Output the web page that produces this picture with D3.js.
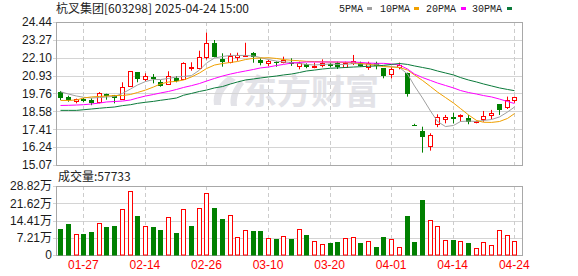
<!DOCTYPE html>
<html>
<head>
<meta charset="utf-8">
<script src="https://cdn.jsdelivr.net/npm/d3@7"></script>
<style>
  body { margin: 0; background: #fff; }
  svg { display: block; }
</style>
</head>
<body>
<script>
// trading days shown
const dates = ["01-22","01-23","01-24","01-27",
  "02-05","02-06","02-07","02-10","02-11","02-12","02-13","02-14","02-17","02-18","02-19","02-20","02-21","02-24","02-25","02-26","02-27","02-28",
  "03-03","03-04","03-05","03-06","03-07","03-10","03-11","03-12","03-13","03-14","03-17","03-18","03-19","03-20","03-21","03-24","03-25","03-26","03-27","03-28","03-31",
  "04-01","04-02","04-03","04-07","04-08","04-09","04-10","04-11","04-14","04-15","04-16","04-17","04-18","04-21","04-22","04-23","04-24"];

const open = [19.87,19.55,19.24,19.40,19.33,19.20,19.70,19.64,19.38,20.27,
  21.14,20.73,20.82,20.49,20.36,20.79,20.73,21.43,21.45,22.17,
  23.08,22.02,21.80,22.17,22.21,22.43,21.93,21.73,21.82,21.82,
  21.84,21.58,21.67,21.51,21.60,21.67,21.73,21.51,21.73,21.78,
  21.51,21.73,21.41,21.03,21.49,21.08,17.71,17.32,16.34,17.76,
  18.07,18.20,18.28,18.17,17.89,18.09,18.33,19.05,18.89,19.33];
const high = [19.92,19.61,19.42,19.46,19.44,19.85,19.74,19.66,20.49,21.21,
  21.16,21.08,21.03,20.64,21.21,20.90,21.80,21.80,22.56,23.74,
  23.26,22.39,22.39,22.43,23.08,22.47,22.06,21.95,21.86,22.17,
  22.06,21.84,21.73,21.78,21.99,21.78,21.84,21.84,22.28,21.84,
  21.84,21.84,21.41,21.47,21.78,21.12,17.77,17.58,17.15,18.39,
  18.35,18.50,18.39,18.35,17.98,18.61,18.68,19.05,19.55,19.55];
const low = [19.33,19.22,19.11,19.20,18.99,19.11,19.35,19.11,19.33,20.20,
  20.49,20.57,20.42,20.20,20.31,20.49,20.64,21.25,21.34,21.99,
  22.13,21.51,21.73,21.90,22.17,21.77,21.60,21.56,21.51,21.73,
  21.56,21.34,21.41,21.41,21.47,21.47,21.36,21.47,21.62,21.51,
  21.30,21.34,20.75,20.75,21.34,19.55,17.69,15.88,16.01,17.55,
  17.80,17.80,17.91,17.74,17.80,17.91,18.07,18.35,18.74,19.15];
const close = [19.44,19.34,19.40,19.28,19.15,19.77,19.57,19.46,20.16,21.21,
  20.71,20.90,20.73,20.27,20.88,20.59,21.73,21.47,22.13,23.04,
  22.17,21.84,22.23,22.26,22.28,22.17,21.73,21.88,21.78,21.95,
  21.69,21.73,21.47,21.58,21.73,21.58,21.51,21.73,21.88,21.58,
  21.73,21.58,20.90,21.34,21.60,19.70,17.69,16.93,17.04,18.20,
  18.20,18.09,18.32,17.89,17.93,18.28,18.50,18.68,19.33,19.51];

// volume in 万手, and whether the bar is drawn red (up) or green (down)
const volume = [10.86,12.95,8.63,8.77,9.61,13.23,11.56,12.11,19.07,26.59,
  16.29,11.97,11.56,10.44,15.73,9.19,19.07,12.11,19.49,25.76,
  19.63,15.04,16.57,7.38,10.30,10.02,10.02,6.96,6.68,7.80,
  6.68,10.72,8.35,5.85,4.59,5.01,5.43,6.96,7.38,5.01,
  5.85,3.34,7.52,6.54,3.20,16.29,5.43,22.97,14.48,11.97,
  6.13,6.13,5.71,5.01,2.78,5.29,4.04,10.30,8.21,5.77];
const volUp = [0,0,1,0,0,1,0,0,1,1, 0,1,0,0,1,0,1,0,1,1,
  0,0,1,1,1,0,0,1,0,1, 0,1,0,1,1,0,0,1,1,0,
  1,0,0,1,1,0,0,0,1,1, 1,0,1,0,1,1,1,1,1,1];

// moving averages
const ma5 = [19.87,19.72,19.59,19.51,19.46,19.49,19.53,19.56,19.76,20.05,
  20.31,20.54,20.67,20.67,20.74,20.84,20.87,20.93,21.29,21.75,
  22.08,22.18,22.25,22.25,22.25,22.21,22.11,21.98,21.88,21.82,
  21.79,21.72,21.66,21.62,21.66,21.69,21.66,21.66,21.72,21.69,
  21.69,21.66,21.56,21.52,21.46,21.03,20.25,19.46,18.61,17.92,
  17.59,17.66,17.92,17.95,17.92,17.99,18.05,18.22,18.54,18.87];
const ma10 = [19.30,19.30,19.33,19.46,19.53,19.56,19.59,19.62,19.62,19.69,
  19.82,19.98,20.18,20.38,20.51,20.55,20.64,20.84,21.10,21.39,
  21.62,21.72,21.79,21.85,21.98,22.06,22.08,22.10,22.05,21.98,
  21.93,21.90,21.86,21.85,21.83,21.82,21.81,21.79,21.77,21.73,
  21.67,21.59,21.52,21.49,21.46,21.29,20.97,20.61,20.21,19.85,
  19.49,19.13,18.77,18.35,17.99,17.87,17.86,17.92,18.12,18.44];
const ma20 = [18.97,18.98,19.00,19.02,19.07,19.13,19.20,19.23,19.26,19.33,
  19.46,19.59,19.69,19.79,19.89,20.02,20.15,20.27,20.41,20.57,
  20.74,20.90,21.03,21.13,21.23,21.33,21.43,21.49,21.59,21.66,
  21.75,21.79,21.82,21.82,21.82,21.82,21.82,21.82,21.82,21.79,
  21.75,21.73,21.73,21.69,21.62,21.36,21.03,20.80,20.61,20.44,
  20.28,20.12,19.95,19.82,19.72,19.62,19.53,19.39,19.23,19.10];
const ma30 = [18.65,18.65,18.65,18.69,18.74,18.79,18.83,18.87,18.96,19.02,
  19.11,19.18,19.24,19.31,19.38,19.46,19.64,19.76,19.89,19.98,
  20.12,20.21,20.38,20.51,20.64,20.71,20.77,20.84,20.90,20.97,
  21.03,21.13,21.23,21.29,21.36,21.41,21.43,21.46,21.49,21.51,
  21.54,21.56,21.60,21.66,21.72,21.66,21.56,21.46,21.36,21.23,
  21.10,20.97,20.80,20.64,20.51,20.38,20.25,20.12,20.02,19.94];

const priceTicks = [15.07,16.24,17.41,18.58,19.76,20.93,22.10,23.27,24.44];
const volTicks = [0,7.21,14.41,21.62,28.82];
const dateTicks = ["01-27","02-14","02-26","03-10","03-20","04-01","04-14","04-24"];

const maNames = ["5PMA","10PMA","20PMA","30PMA"];
const maColors = ["#a0a0a0","#f0a000","#ff00ff","#0b7a3b"];

const width = 578, height = 276;
const left = 56, right = 522;
const pTop = 22, pBottom = 165;
const vTop = 186, vBottom = 255;
const red = "#ff0000", green = "#008000";

const svg = d3.select("body").append("svg")
  .attr("width", width)
  .attr("height", height);

// scales
const x = d3.scaleBand().domain(dates).range([56.4, 518.1]);
const y = d3.scaleLinear().domain([15.07, 24.44]).range([pBottom, pTop]);
const yv = d3.scaleLinear().domain([0, 28.82]).range([vBottom, vTop]);
const cx = d => Math.round(x(d) + x.bandwidth() / 2);

// watermark (logo swoosh + name)
const wm = svg.append("g").attr("fill", "#e3e3e8");
wm.append("path")
  .attr("d", "M229,76 C219,82 212,93 214,105 L221,105 C220,95 226,86 236,80 Z M240,80 C233,88 229,97 231,106 L237,106 C236,98 239,90 244,84 Z");
wm.append("text")
  .attr("x", 243).attr("y", 104)
  .attr("font-family", "Noto Sans CJK SC")
  .attr("font-weight", "bold")
  .attr("font-size", 34)
  .text("东方财富");

// horizontal grid
svg.append("g").selectAll("line").data(priceTicks).join("line")
  .attr("x1", left - 3).attr("x2", right)
  .attr("y1", d => Math.round(y(d)) + 0.5).attr("y2", d => Math.round(y(d)) + 0.5)
  .attr("stroke", "#d4d4d4");
svg.append("g").selectAll("line").data(volTicks).join("line")
  .attr("x1", left - 3).attr("x2", right)
  .attr("y1", d => Math.round(yv(d)) + 0.5).attr("y2", d => Math.round(yv(d)) + 0.5)
  .attr("stroke", "#d4d4d4");

// vertical dashed grid
[[pTop, pBottom], [vTop, vBottom]].forEach(([t, b]) => {
  svg.append("g").selectAll("line").data(dateTicks).join("line")
    .attr("x1", d => cx(d) + 0.5).attr("x2", d => cx(d) + 0.5)
    .attr("y1", t).attr("y2", b)
    .attr("stroke", "#cccccc")
    .attr("stroke-dasharray", "4,3");
});

// frames
[[pTop, pBottom], [vTop, vBottom]].forEach(([t, b]) => {
  svg.append("rect")
    .attr("x", left + 0.5).attr("y", t + 0.5)
    .attr("width", right - left).attr("height", b - t)
    .attr("fill", "none").attr("stroke", "#a8a8a8");
});

// axes labels
const yAxis = svg.append("g")
  .attr("transform", `translate(${left - 3},0)`)
  .call(d3.axisLeft(y).tickValues(priceTicks).tickFormat(d3.format(".2f")).tickSize(0).tickPadding(1));
const vAxis = svg.append("g")
  .attr("transform", `translate(${left - 3},0)`)
  .call(d3.axisLeft(yv).tickValues(volTicks).tickFormat(d => d === 0 ? "0" : d3.format(".2f")(d) + "万").tickSize(0).tickPadding(1));
const xAxis = svg.append("g")
  .attr("transform", `translate(0,${vBottom})`)
  .call(d3.axisBottom(x).tickValues(dateTicks).tickSize(0).tickPadding(6));
[yAxis, vAxis, xAxis].forEach(g => {
  g.select(".domain").remove();
  g.selectAll("text")
    .attr("font-family", "Liberation Sans, Noto Sans CJK SC")
    .attr("font-size", 12)
    .attr("fill", "#1a1a1a");
});
xAxis.selectAll("text").attr("fill", red).attr("dy", "0.7em");

// candles
const idx = d3.range(dates.length);
const candles = svg.append("g");
idx.forEach(i => {
  const c = cx(dates[i]);
  const up = close[i] >= open[i];
  const yTop = Math.round(y(Math.max(open[i], close[i])));
  const yBot = Math.round(y(Math.min(open[i], close[i])));
  const col = up ? red : green;
  if (up) {
    candles.append("line")
      .attr("x1", c + 0.5).attr("x2", c + 0.5)
      .attr("y1", y(high[i])).attr("y2", yTop)
      .attr("stroke", col);
    candles.append("line")
      .attr("x1", c + 0.5).attr("x2", c + 0.5)
      .attr("y1", yBot).attr("y2", y(low[i]))
      .attr("stroke", col);
    candles.append("rect")
      .attr("x", c - 1.5).attr("y", yTop + 0.5)
      .attr("width", 4).attr("height", Math.max(yBot - yTop, 1))
      .attr("fill", "#fff").attr("stroke", col);
  } else {
    candles.append("line")
      .attr("x1", c + 0.5).attr("x2", c + 0.5)
      .attr("y1", y(high[i])).attr("y2", y(low[i]))
      .attr("stroke", col);
    candles.append("rect")
      .attr("x", c - 2).attr("y", yTop)
      .attr("width", 5).attr("height", Math.max(yBot - yTop, 1))
      .attr("fill", col);
  }
});

// moving average lines
[ma5, ma10, ma20, ma30].forEach((arr, k) => {
  const line = d3.line()
    .x(i => cx(dates[i]) + 0.5)
    .y(i => y(arr[i]));
  svg.append("path")
    .datum(idx)
    .attr("fill", "none")
    .attr("stroke", maColors[k])
    .attr("stroke-width", 1)
    .attr("d", line);
});

// volume bars
idx.forEach(i => {
  const c = cx(dates[i]);
  const top = Math.round(yv(volume[i]));
  if (volUp[i]) {
    svg.append("rect")
      .attr("x", c - 1.5).attr("y", top + 0.5)
      .attr("width", 4).attr("height", vBottom - top - 0.5)
      .attr("fill", "#fff").attr("stroke", red);
  } else {
    svg.append("rect")
      .attr("x", c - 2).attr("y", top)
      .attr("width", 5).attr("height", vBottom - top + 0.5)
      .attr("fill", green);
  }
});

// title
svg.append("text")
  .attr("x", 56).attr("y", 13)
  .attr("font-family", "Noto Sans CJK SC")
  .attr("font-size", 12)
  .attr("fill", "#222")
  .text("杭叉集团[603298] 2025-04-24 15:00");

// legend
const legendX = [339, 380, 426, 472];
const swatchX = [367, 414, 461, 507];
maNames.forEach((name, k) => {
  svg.append("text")
    .attr("x", legendX[k]).attr("y", 12)
    .attr("font-family", "Liberation Mono")
    .attr("font-size", 10)
    .attr("fill", "#222")
    .text(name);
  svg.append("rect")
    .attr("x", swatchX[k]).attr("y", 7)
    .attr("width", 5).attr("height", 3)
    .attr("fill", maColors[k]);
});

// volume caption
svg.append("text")
  .attr("x", 58).attr("y", 181)
  .attr("font-family", "Noto Sans CJK SC")
  .attr("font-size", 12)
  .attr("fill", "#222")
  .text("成交量:" + d3.format("d")(57733));
</script>
</body>
</html>
